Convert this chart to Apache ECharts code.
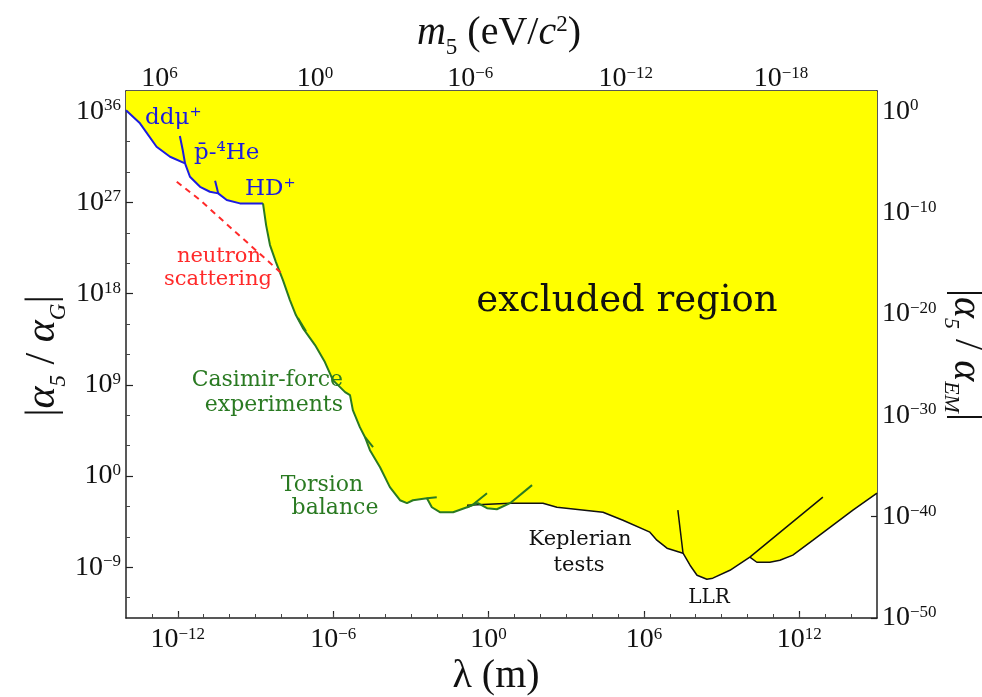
<!DOCTYPE html>
<html><head><meta charset="utf-8">
<script src="https://cdn.jsdelivr.net/npm/echarts@6/dist/echarts.min.js"></script>
<style>html,body{margin:0;padding:0;background:#fff}#c{width:982px;height:697px}</style>
</head><body><div id="c"></div>
<script>
// ---- axes (all values are log10) ----
const xRange = [-14, 15];          // log10 lambda (m)
const yRange = [-14, 38];          // log10 |alpha5/alphaG|
const emShift = 36;                // log10(alphaEM/alphaG) offset for right axis
const massOffset = -6.705;         // log10(hbar*c in eV*m)
const bottomMajorTicks = [-12, -6, 0, 6, 12];
const bottomMinorTicks = [-13,-12,-11,-10,-9,-8,-7,-6,-5,-4,-3,-2,-1,0,1,2,3,4,5,6,7,8,9,10,11,12,13,14];
const leftMajorTicks = [-9, 0, 9, 18, 27, 36];
const leftMinorTicks = [-12,-6,-3,3,6,12,15,21,24,30,33];
const rightTicks = [-50, -40, -30, -20, -10, 0];
const topMassMajor = [6, 0, -6, -12, -18];
const topMassMinor = [7,6,5,4,3,2,1,0,-1,-2,-3,-4,-5,-6,-7,-8,-9,-10,-11,-12,-13,-14,-15,-16,-17,-18,-19,-20,-21];

// ---- constraint curves [log10 lambda, log10 alpha] ----
const blueCurve = [[-14,36.1],[-13.46,34.81],[-12.82,32.50],[-12.30,31.51],[-11.72,30.86],[-11.53,29.54],[-11.14,28.55],[-10.76,28.06],[-10.44,27.90],[-10.11,27.24],[-9.60,26.91],[-8.83,26.91],[-8.71,26.91]];
const greenCurve = [[-8.71,26.91],[-8.59,24.77],[-8.44,22.80],[-8.21,21.12],[-7.94,19.34],[-7.67,17.37],[-7.44,15.89],[-7.17,14.60],[-6.70,12.93],[-6.32,11.25],[-6.01,9.47],[-5.54,8.29],[-5.35,7.99],[-5.24,6.51],[-4.97,4.83],[-4.77,3.84],[-4.58,2.56],[-4.19,0.88],[-3.81,-1.09],[-3.42,-2.38],[-3.15,-2.67],[-2.92,-2.38],[-2.38,-2.18],[-2.19,-3.07],[-1.88,-3.56],[-1.37,-3.56],[-0.83,-3.07],[-0.41,-2.67],[-0.06,-3.17],[0.32,-3.27],[0.83,-2.67]];
const keplerCurve = [[-0.83,-2.87],[0.83,-2.67],[2.10,-2.67],[2.64,-3.07],[4.42,-3.56],[5.19,-4.35],[6.23,-5.53],[6.50,-6.32],[6.89,-7.11],[7.51,-7.61]];
const llrCurve = [[7.31,-3.36],[7.51,-7.61],[7.78,-8.79],[8.05,-9.78],[8.43,-10.17],[8.66,-10.07],[9.32,-9.29],[10.09,-8.00],[11.51,-5.01],[12.91,-2.08]];
const farCurve = [[10.09,-8.00],[10.36,-8.50],[10.86,-8.50],[11.25,-8.30],[11.75,-7.80],[12.53,-6.32],[13.30,-4.84],[14.07,-3.36],[15.0,-1.68]];
const blueSpurs = [[[-11.92,33.56],[-11.81,32.18],[-11.72,30.86]], [[-10.56,29.15],[-10.44,27.90]]];
const greenSpurs = [[[-7.36,15.6],[-7.05,14.3]], [[-4.77,3.84],[-4.46,2.86]], [[-2.38,-2.18],[-2.0,-2.08]], [[-0.83,-3.07],[-0.6,-2.8],[-0.06,-1.69]], [[0.83,-2.67],[1.68,-0.89]]];
const neutronCurve = [[-12.04,29.05],[-11.14,27.24],[-9.86,24.28],[-8.70,21.64],[-7.99,20.00]];

// boundary of excluded region
const llrLower = llrCurve.filter(p => p[0] >= 7.51 && p[0] <= 10.09);
const boundary = [].concat(blueCurve, greenCurve.slice(1), keplerCurve.slice(2), llrLower.slice(1), farCurve.slice(1));

const BLUE = '#1c1ce0', GREEN = '#2a7a22', RED = '#ff2a2a', YEL = '#ffff00';
const serif = 'Liberation Serif';
const lab = 'DejaVu Serif';

function sup(n) { return n < 0 ? '\u2212' + Math.abs(n) : String(n); }
function pow10(n) { return '{b|10}{s|' + sup(n) + '}'; }
const rich = {
  b: { fontFamily: serif, fontSize: 28, color: '#111', verticalAlign: 'bottom' },
  s: { fontFamily: serif, fontSize: 17, color: '#111', verticalAlign: 'top' }
};
const axLine = { show: true, onZero: false, lineStyle: { color: '#222', width: 1.5 } };
const noLine = { show: false, onZero: false };

const chart = echarts.init(document.getElementById('c'), null, { renderer: 'canvas' });

const lineSeries = (data, color, width, extra) => Object.assign({
  type: 'line', data: data, showSymbol: false, symbol: 'none', silent: true, animation: false,
  lineStyle: { color: color, width: width }, z: 5
}, extra || {});

const series = [
  { type: 'line', data: boundary, showSymbol: false, symbol: 'none', silent: true, animation: false,
    lineStyle: { width: 0 }, areaStyle: { color: YEL, opacity: 1, origin: 'end' }, z: 2 },
  lineSeries(blueCurve, BLUE, 2),
  lineSeries(greenCurve, GREEN, 2),
  lineSeries(keplerCurve, '#111', 1.5, { z: 4 }),
  lineSeries(llrCurve, '#111', 1.5),
  lineSeries(farCurve, '#111', 1.5),
  lineSeries(neutronCurve, RED, 2, { lineStyle: { color: RED, width: 2, type: [6, 5] } })
];
blueSpurs.forEach(s => series.push(lineSeries(s, BLUE, 2)));
greenSpurs.forEach(s => series.push(lineSeries(s, GREEN, 2)));

function txt(x, y, text, size, color, align) {
  return { type: 'text', x: x, y: y, z: 50, silent: true,
    style: { text: text, fontFamily: lab, fontSize: size, fill: color, align: align || 'center', verticalAlign: 'middle', lineHeight: size * 1.2 } };
}

const option = {
  animation: false,
  backgroundColor: '#fff',
  grid: { left: 126, right: 105, top: 91, bottom: 79, containLabel: false },
  xAxis: [
    { type: 'value', min: xRange[0], max: xRange[1], position: 'bottom', axisLine: axLine, splitLine: { show: false },
      axisTick: { inside: true, length: 7, customValues: bottomMajorTicks, lineStyle: { color: '#222', width: 1.2 } },
      axisLabel: { customValues: bottomMajorTicks, margin: 8, formatter: v => pow10(v), rich: rich } },
    { type: 'value', min: xRange[0], max: xRange[1], position: 'bottom', axisLine: noLine, splitLine: { show: false },
      axisTick: { inside: true, length: 4, customValues: bottomMinorTicks, lineStyle: { color: '#444', width: 1 } },
      axisLabel: { show: false } },
    { type: 'value', min: xRange[0], max: xRange[1], position: 'top', axisLine: axLine, splitLine: { show: false },
      axisTick: { inside: true, length: 7, customValues: topMassMajor.map(m => massOffset - m), lineStyle: { color: '#222', width: 1.2 } },
      axisLabel: { customValues: topMassMajor.map(m => massOffset - m), margin: -2,
        formatter: v => pow10(Math.round(massOffset - v)), rich: rich } },
    { type: 'value', min: xRange[0], max: xRange[1], position: 'top', axisLine: noLine, splitLine: { show: false },
      axisTick: { inside: true, length: 4, customValues: topMassMinor.map(m => massOffset - m).filter(v => v > xRange[0] && v < xRange[1]), lineStyle: { color: '#444', width: 1 } },
      axisLabel: { show: false } }
  ],
  yAxis: [
    { type: 'value', min: yRange[0], max: yRange[1], position: 'left', axisLine: axLine, splitLine: { show: false },
      axisTick: { inside: true, length: 7, customValues: leftMajorTicks, lineStyle: { color: '#222', width: 1.2 } },
      axisLabel: { customValues: leftMajorTicks, margin: 5, formatter: v => pow10(v), rich: rich } },
    { type: 'value', min: yRange[0], max: yRange[1], position: 'left', axisLine: noLine, splitLine: { show: false },
      axisTick: { inside: true, length: 4, customValues: leftMinorTicks, lineStyle: { color: '#444', width: 1 } },
      axisLabel: { show: false } },
    { type: 'value', min: yRange[0] - emShift, max: yRange[1] - emShift, position: 'right', axisLine: axLine, splitLine: { show: false },
      axisTick: { inside: true, length: 6, customValues: rightTicks, lineStyle: { color: '#222', width: 1.2 } },
      axisLabel: { customValues: rightTicks, margin: 5, formatter: v => pow10(v), rich: rich } }
  ],
  series: series,
  graphic: [
    txt(145, 118, 'ddμ\u207A', 23, BLUE, 'left'),
    txt(194, 153, 'p\u0304-\u2074He', 23, BLUE, 'left'),
    txt(245, 189, 'HD\u207A', 23, BLUE, 'left'),
    txt(261, 257, 'neutron', 21, RED, 'right'),
    txt(272, 280, 'scattering', 21, RED, 'right'),
    txt(343, 380, 'Casimir-force', 22, GREEN, 'right'),
    txt(343, 405, 'experiments', 22, GREEN, 'right'),
    txt(322, 485, 'Torsion', 22, GREEN),
    txt(335, 508, 'balance', 22, GREEN),
    txt(580, 540, 'Keplerian', 21, '#111'),
    txt(579, 566, 'tests', 21, '#111'),
    txt(709, 598, 'LLR', 20, '#111'),
    txt(627, 301, 'excluded region', 37, '#111'),
    { type: 'text', x: 499, y: 33, z: 50, silent: true,
      style: { text: '{i|m}{sb|5}{n| (eV/}{i|c}{sp|2}{n|)}', align: 'center', verticalAlign: 'middle',
        rich: { i: { fontFamily: serif, fontStyle: 'italic', fontSize: 40, fill: '#111', verticalAlign: 'bottom' },
                n: { fontFamily: serif, fontSize: 40, fill: '#111', verticalAlign: 'bottom' },
                sb: { fontFamily: serif, fontSize: 23, fill: '#111', verticalAlign: 'bottom', padding: [0, 0, -6, 0] },
                sp: { fontFamily: serif, fontSize: 23, fill: '#111', verticalAlign: 'top' } } } },
    { type: 'text', x: 496, y: 676, z: 50, silent: true,
      style: { text: '{i|λ}{n| (m)}', align: 'center', verticalAlign: 'middle',
        rich: { i: { fontFamily: serif, fontSize: 40, fill: '#111' }, n: { fontFamily: serif, fontSize: 40, fill: '#111' } } } },
    { type: 'text', x: 43, y: 356, rotation: Math.PI / 2, z: 50, silent: true,
      style: { text: '{n||}{i|α}{sb|5}{n| / }{i|α}{sb|G}{n||}', align: 'center', verticalAlign: 'middle',
        rich: { i: { fontFamily: serif, fontStyle: 'italic', fontSize: 42, fill: '#111', verticalAlign: 'bottom' },
                n: { fontFamily: serif, fontSize: 42, fill: '#111', verticalAlign: 'bottom' },
                sb: { fontFamily: serif, fontStyle: 'italic', fontSize: 23, fill: '#111', verticalAlign: 'bottom', padding: [0, 0, -6, 0] } } } },
    { type: 'text', x: 966, y: 355, rotation: -Math.PI / 2, z: 50, silent: true,
      style: { text: '{n||}{i|α}{sb|5}{n| / }{i|α}{sb|EM}{n||}', align: 'center', verticalAlign: 'middle',
        rich: { i: { fontFamily: serif, fontStyle: 'italic', fontSize: 40, fill: '#111', verticalAlign: 'bottom' },
                n: { fontFamily: serif, fontSize: 40, fill: '#111', verticalAlign: 'bottom' },
                sb: { fontFamily: serif, fontStyle: 'italic', fontSize: 22, fill: '#111', verticalAlign: 'bottom', padding: [0, 0, -6, 0] } } } }
  ]
};
chart.setOption(option);
</script>
</body></html>
